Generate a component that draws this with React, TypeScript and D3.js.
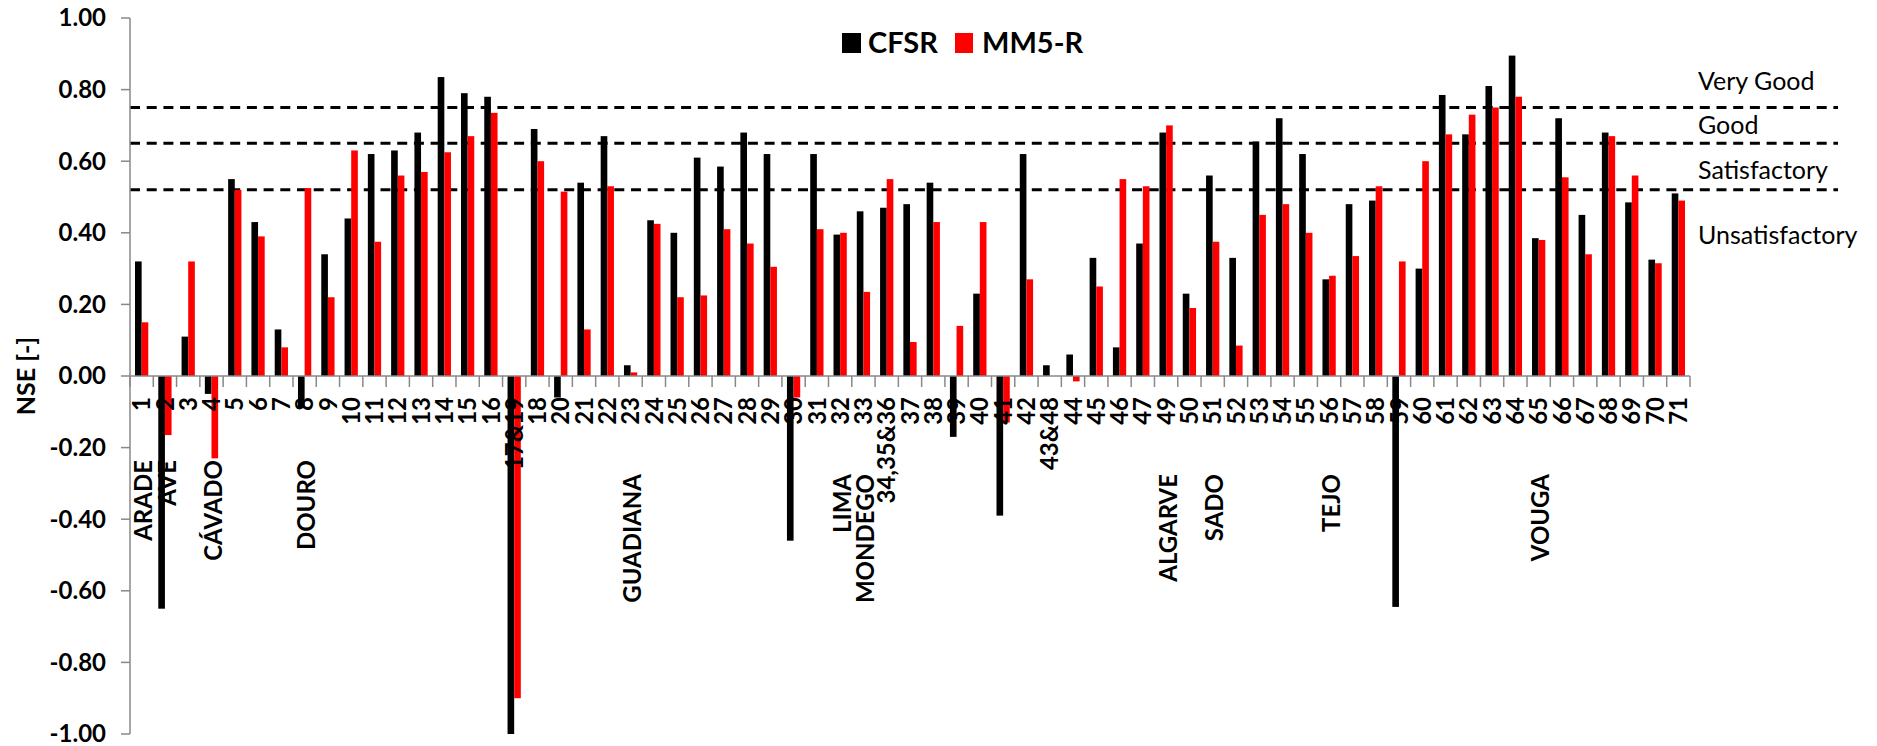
import * as d3 from "d3";

const categories = [
  "1", "2", "3", "4", "5", "6", "7", "8", "9", "10", "11", "12", "13", "14", "15", "16",
  "17&19", "18", "20", "21", "22", "23", "24", "25", "26", "27", "28", "29", "30", "31", "32", "33",
  "34,35&36", "37", "38", "39", "40", "41", "42", "43&48", "44", "45", "46", "47",
  "49", "50", "51", "52", "53", "54", "55", "56", "57", "58", "59", "60",
  "61", "62", "63", "64", "65", "66", "67", "68", "69", "70", "71",
];

const cfsr = [
  0.32, -0.65, 0.11, -0.05, 0.55, 0.43, 0.13, -0.09, 0.34, 0.44, 0.62, 0.63, 0.68, 0.835, 0.79, 0.78,
  -1.0, 0.69, -0.06, 0.54, 0.67, 0.03, 0.435, 0.4, 0.61, 0.585, 0.68, 0.62, -0.46, 0.62, 0.395, 0.46,
  0.47, 0.48, 0.54, -0.17, 0.23, -0.39, 0.62, 0.03, 0.06, 0.33, 0.08, 0.37,
  0.68, 0.23, 0.56, 0.33, 0.655, 0.72, 0.62, 0.27, 0.48, 0.49, -0.645, 0.3,
  0.785, 0.675, 0.81, 0.895, 0.385, 0.72, 0.45, 0.68, 0.485, 0.325, 0.51,
];

const mm5r = [
  0.15, -0.165, 0.32, -0.23, 0.52, 0.39, 0.08, 0.525, 0.22, 0.63, 0.375, 0.56, 0.57, 0.625, 0.67, 0.735,
  -0.9, 0.6, 0.515, 0.13, 0.53, 0.01, 0.425, 0.22, 0.225, 0.41, 0.37, 0.305, -0.06, 0.41, 0.4, 0.235,
  0.55, 0.095, 0.43, 0.14, 0.43, -0.13, 0.27, 0, -0.015, 0.25, 0.55, 0.53,
  0.7, 0.19, 0.375, 0.085, 0.45, 0.48, 0.4, 0.28, 0.335, 0.53, 0.32, 0.6,
  0.675, 0.73, 0.75, 0.78, 0.38, 0.555, 0.34, 0.67, 0.56, 0.315, 0.49,
];

const seriesNames = ["CFSR", "MM5-R"];
const seriesColors = ["#000000", "#ff0000"];

const yTicks = [-1, -0.8, -0.6, -0.4, -0.2, 0, 0.2, 0.4, 0.6, 0.8, 1];

// NSE class limits and where their names sit (in NSE units)
const thresholds = [0.75, 0.65, 0.52];
const classNames = ["Very Good", "Good", "Satisfactory", "Unsatisfactory"];
const classNameAt = [0.8, 0.675, 0.55, 0.37];

// river basin name -> category it sits under
const basins: [string, string][] = [
  ["ARADE", "1"], ["AVE", "2"], ["CÁVADO", "4"], ["DOURO", "8"],
  ["GUADIANA", "23"], ["LIMA", "32"], ["MONDEGO", "33"], ["ALGARVE", "49"],
  ["SADO", "51"], ["TEJO", "56"], ["VOUGA", "65"],
];
const upperBasins = ["ARADE", "AVE", "CÁVADO", "DOURO"];

const W = 1877;
const H = 746;
const FONT = "Lato, 'Open Sans', sans-serif";

export default function App() {
  const y = d3.scaleLinear().domain([-1, 1]).range([734, 18]);
  const x = d3.scaleBand<string>().domain(categories).range([130, 1690]);
  const bw = x.bandwidth();
  const xs = d3.scaleBand<string>().domain(seriesNames).range([bw * 0.215, bw * 0.785]);
  const y0 = y(0);
  const values = [cfsr, mm5r];

  const bounds = d3.range(categories.length + 1).map((i) => 130 + i * bw);

  return (
    <svg
      width={W}
      height={H}
      style={{ position: "absolute", left: 0, top: 0, background: "#fff", fontFamily: FONT }}
    >
      {/* threshold lines */}
      {thresholds.map((t) => (
        <line
          key={t}
          x1={130}
          x2={1838}
          y1={y(t)}
          y2={y(t)}
          stroke="#000"
          strokeWidth={3}
          strokeDasharray="10 6.7"
        />
      ))}
      {classNames.map((n, i) => (
        <text key={n} x={1698} y={y(classNameAt[i])} fontSize={25} fill="#000">
          {n}
        </text>
      ))}

      {/* bars */}
      {values.map((vals, s) => (
        <g key={seriesNames[s]} fill={seriesColors[s]}>
          {categories.map((c, i) => {
            const v = vals[i];
            if (v === 0) return null;
            return (
              <rect
                key={c}
                x={(x(c) ?? 0) + (xs(seriesNames[s]) ?? 0)}
                width={xs.bandwidth()}
                y={Math.min(y(v), y0)}
                height={Math.abs(y(v) - y0)}
              />
            );
          })}
        </g>
      ))}

      {/* y axis */}
      <line x1={130} x2={130} y1={y(1)} y2={y(-1)} stroke="#888" strokeWidth={1.5} />
      {yTicks.map((t) => (
        <g key={t}>
          <line x1={121} x2={130} y1={y(t)} y2={y(t)} stroke="#888" strokeWidth={1.5} />
          <text
            x={106}
            y={y(t)}
            dy="0.35em"
            textAnchor="end"
            fontSize={24}
            fontWeight="bold"
            fill="#000"
          >
            {t.toFixed(2)}
          </text>
        </g>
      ))}
      <text
        transform={`translate(26,${y0}) rotate(-90)`}
        textAnchor="middle"
        dy="0.35em"
        fontSize={25}
        fontWeight="bold"
      >
        NSE [-]
      </text>

      {/* x axis at zero */}
      <line x1={130} x2={1690} y1={y0} y2={y0} stroke="#888" strokeWidth={1.5} />
      {bounds.map((bx, i) => (
        <line key={i} x1={bx} x2={bx} y1={y0} y2={y0 + 11} stroke="#888" strokeWidth={1.5} />
      ))}
      {categories.map((c) => (
        <text
          key={c}
          transform={`translate(${(x(c) ?? 0) + bw / 2},397) rotate(-90)`}
          textAnchor="end"
          dy="0.36em"
          fontSize={24}
          fontWeight="bold"
        >
          {c}
        </text>
      ))}

      {/* basin names */}
      {basins.map(([name, cat]) => (
        <text
          key={name}
          transform={`translate(${(x(cat) ?? 0) + bw / 2 + 2},${upperBasins.includes(name) ? 460 : 474}) rotate(-90)`}
          textAnchor="end"
          dy="0.36em"
          fontSize={24}
          fontWeight="bold"
        >
          {name}
        </text>
      ))}

      {/* legend */}
      <rect x={842} y={33} width={19} height={20} fill={seriesColors[0]} />
      <text x={868} y={53} fontSize={29} fontWeight="bold">
        {seriesNames[0]}
      </text>
      <rect x={955} y={33} width={18} height={20} fill={seriesColors[1]} />
      <text x={982} y={53} fontSize={29} fontWeight="bold">
        {seriesNames[1]}
      </text>
    </svg>
  );
}
